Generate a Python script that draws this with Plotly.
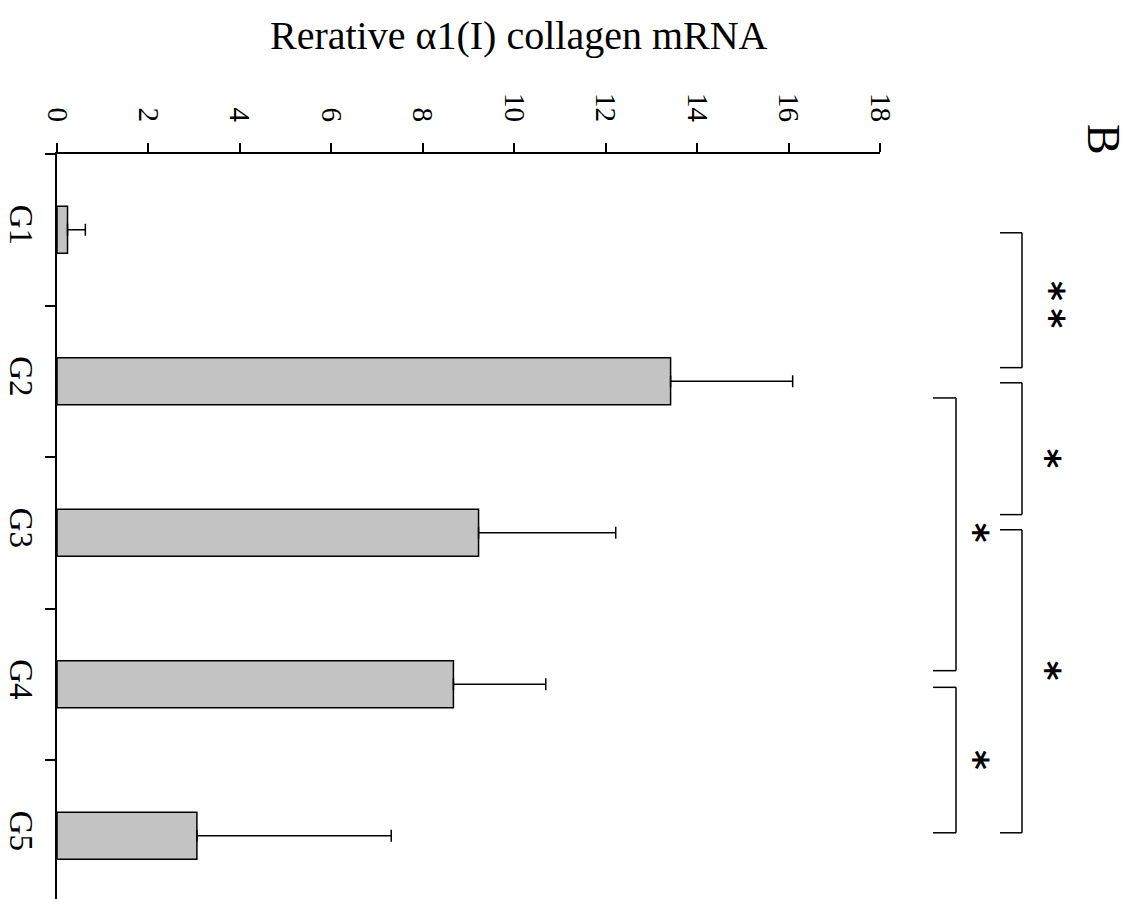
import plotly.graph_objects as go

# ---- data ----
groups = ["G1", "G2", "G3", "G4", "G5"]
means = [0.23, 13.42, 9.22, 8.67, 3.06]
err_plus = [0.39, 2.67, 3.00, 2.02, 4.25]
value_ticks = [0, 2, 4, 6, 8, 10, 12, 14, 16, 18]

# significance brackets: (start category index, end category index, column, label, label position)
brackets = [
    (0.02, 0.91, "outer", "*\u2009*", 0.49),
    (1.01, 1.88, "outer", "*", 1.51),
    (1.11, 2.91, "inner", "*", 2.00),
    (1.98, 3.98, "outer", "*", 2.91),
    (3.02, 3.98, "inner", "*", 3.50),
]

SERIF = "Liberation Serif, Times New Roman, serif"

# plot area in pixels
L, R_px, T, H = 57, 880, 154, 899
W = 1128


def px_to_paper_x(px):
    return (px - L) / (R_px - L)


def px_to_paper_y(py):
    return (H - py) / (H - T)


col_x = {
    "outer": (px_to_paper_x(1000), px_to_paper_x(1022), {"*\u2009*": px_to_paper_x(1051), "*": px_to_paper_x(1047)}),
    "inner": (px_to_paper_x(933), px_to_paper_x(956), {"*": px_to_paper_x(975)}),
}

fig = go.Figure()
fig.add_trace(
    go.Bar(
        orientation="h",
        y=groups,
        x=means,
        width=0.31,
        marker=dict(color="#c3c3c3", line=dict(color="black", width=1.5)),
        error_x=dict(
            type="data",
            array=err_plus,
            arrayminus=[0] * len(err_plus),
            symmetric=False,
            color="black",
            thickness=1.5,
            width=6,
        ),
        showlegend=False,
    )
)

shapes = []
annotations = []
for y0, y1, col, label, ymid in brackets:
    xl, xr, star_x = col_x[col]
    line = dict(color="black", width=1.5)
    shapes.append(dict(type="line", xref="paper", yref="y", x0=xl, x1=xr, y0=y0, y1=y0, line=line))
    shapes.append(dict(type="line", xref="paper", yref="y", x0=xr, x1=xr, y0=y0, y1=y1, line=line))
    shapes.append(dict(type="line", xref="paper", yref="y", x0=xl, x1=xr, y0=y1, y1=y1, line=line))
    annotations.append(
        dict(
            text="<b>" + label + "</b>",
            xref="paper",
            yref="y",
            x=star_x[label],
            y=ymid,
            showarrow=False,
            textangle=90,
            font=dict(family="DejaVu Sans", size=38, color="black"),
            xanchor="center",
            yanchor="middle",
        )
    )

annotations.append(
    dict(
        text="Rerative α1(I) collagen mRNA",
        xref="paper",
        yref="paper",
        x=px_to_paper_x(519),
        y=px_to_paper_y(36),
        showarrow=False,
        font=dict(family=SERIF, size=40, color="black"),
        xanchor="center",
        yanchor="middle",
    )
)
annotations.append(
    dict(
        text="B",
        xref="paper",
        yref="paper",
        x=px_to_paper_x(1103),
        y=px_to_paper_y(139),
        showarrow=False,
        textangle=90,
        font=dict(family=SERIF, size=46, color="black"),
        xanchor="center",
        yanchor="middle",
    )
)

fig.update_layout(
    width=W,
    height=H,
    autosize=False,
    margin=dict(l=L, r=W - R_px, t=T, b=0, pad=0),
    paper_bgcolor="white",
    plot_bgcolor="white",
    shapes=shapes,
    annotations=annotations,
    xaxis=dict(
        side="top",
        range=[0, 18],
        tickmode="array",
        tickvals=value_ticks,
        ticktext=[str(v) for v in value_ticks],
        ticks="outside",
        ticklen=9,
        tickwidth=1.5,
        tickcolor="black",
        showline=True,
        linecolor="black",
        linewidth=1.5,
        showgrid=False,
        zeroline=False,
        tickangle=90,
        tickfont=dict(family=SERIF, size=29, color="black"),
        ticklabelstandoff=11,
    ),
    yaxis=dict(
        type="category",
        categoryorder="array",
        categoryarray=groups,
        range=[4.417, -0.5],
        ticks="outside",
        tickson="boundaries",
        ticklen=10,
        tickwidth=1.5,
        tickcolor="black",
        showline=True,
        linecolor="black",
        linewidth=1.5,
        showgrid=False,
        zeroline=False,
        tickangle=90,
        tickfont=dict(family=SERIF, size=33, color="black"),
        ticklabelstandoff=6,
    ),
)

fig.write_html(
    "out.html",
    config={"displayModeBar": False},
    post_script="document.body.style.margin='0';",
)
